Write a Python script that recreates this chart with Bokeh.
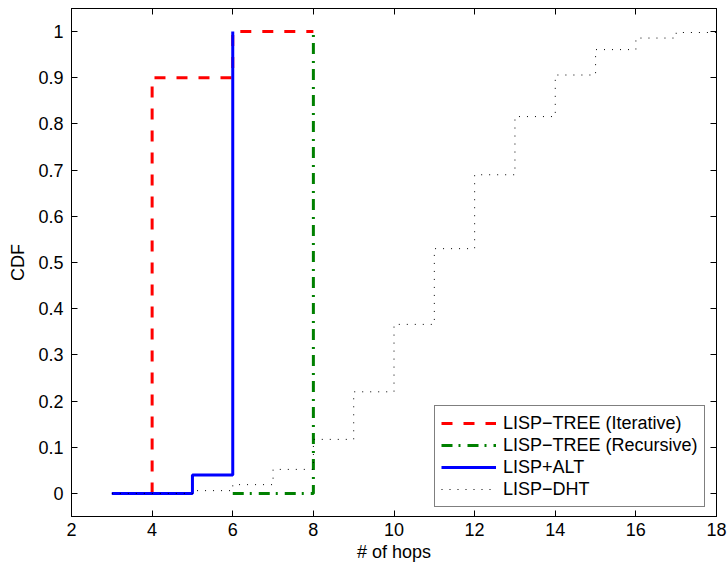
from bokeh.plotting import figure
from bokeh.models import LinearAxis, FixedTicker, Range1d, Legend, CustomLabelingPolicy
from bokeh.embed import file_html
from bokeh.resources import INLINE

# ---- data ----
iter_hops = [4, 4, 6, 8]
iter_cdf = [0, 0.9, 1.0, 1.0]

rec_hops = [6, 8, 8]
rec_cdf = [0, 1.0, 1.0]

alt_hops = [3, 5, 6, 6]
alt_cdf = [0, 0.04, 1.0, 1.0]

dht_hops = [3, 5, 6, 7, 8, 9, 10, 11, 12, 13, 14, 15, 16, 17, 18]
dht_cdf = [0, 0.006, 0.019, 0.052, 0.117, 0.22, 0.366, 0.53, 0.69, 0.816,
           0.906, 0.961, 0.986, 0.998, 1.0]

x_ticks = [2, 4, 6, 8, 10, 12, 14, 16, 18]
y_ticks = [0, 0.1, 0.2, 0.3, 0.4, 0.5, 0.6, 0.7, 0.8, 0.9, 1]
y_tick_labels = ["0", "0.1", "0.2", "0.3", "0.4", "0.5", "0.6", "0.7", "0.8", "0.9", "1"]

series_labels = ["LISP\u2212TREE (Iterative)", "LISP\u2212TREE (Recursive)",
                 "LISP+ALT", "LISP\u2212DHT"]

FONT = "Liberation Sans"
FS = "18px"

p = figure(width=728, height=568, output_backend="svg", toolbar_location=None,
           x_range=Range1d(2, 18), y_range=Range1d(-0.05, 1.05),
           min_border_left=71, min_border_right=12, min_border_top=8,
           min_border_bottom=52)
p.xgrid.visible = False
p.ygrid.visible = False
p.outline_line_color = "black"
p.outline_line_width = 1
p.background_fill_color = "white"
p.border_fill_color = "white"

r1 = p.step(iter_hops, iter_cdf, mode="after", line_color="#ff0000",
            line_width=3, line_dash="11 11")
r2 = p.step(rec_hops, rec_cdf, mode="after", line_color="#008000",
            line_width=3, line_dash="11 6 2 7")
r3 = p.step(alt_hops, alt_cdf, mode="after", line_color="#0000ff",
            line_width=3)
r4 = p.step(dht_hops, dht_cdf, mode="after", line_color="black",
            line_width=1, line_dash="1 7")

overrides = {t: l for t, l in zip(y_ticks, y_tick_labels)}


def style_axis(ax, labels=True):
    ax.major_tick_in = 6
    ax.major_tick_out = 0
    ax.minor_tick_line_color = None
    ax.axis_line_color = "black"
    ax.major_tick_line_color = "black"
    ax.major_label_text_font = FONT
    ax.major_label_text_font_size = FS
    ax.major_label_text_color = "black"
    ax.axis_label_text_font = FONT
    ax.axis_label_text_font_size = FS
    ax.axis_label_text_font_style = "normal"
    ax.axis_label_text_color = "black"
    if not labels:
        ax.major_label_text_font_size = "0px"
        ax.major_label_standoff = 0
        ax.major_label_policy = CustomLabelingPolicy(code="return []")


xa = p.xaxis[0]
xa.ticker = FixedTicker(ticks=x_ticks)
xa.axis_label = "# of hops"
style_axis(xa)
xa.major_label_standoff = 6
xa.axis_label_standoff = 3

ya = p.yaxis[0]
ya.ticker = FixedTicker(ticks=y_ticks)
ya.major_label_overrides = overrides
ya.axis_label = "CDF"
style_axis(ya)
ya.major_label_standoff = 8
ya.axis_label_standoff = 7

top = LinearAxis(ticker=FixedTicker(ticks=x_ticks))
style_axis(top, labels=False)
p.add_layout(top, "above")
right = LinearAxis(ticker=FixedTicker(ticks=y_ticks))
style_axis(right, labels=False)
p.add_layout(right, "right")

legend = Legend(items=[(series_labels[0], [r1]), (series_labels[1], [r2]),
                       (series_labels[2], [r3]), (series_labels[3], [r4])],
                location=(363, 9))
legend.label_text_font = FONT
legend.label_text_font_size = FS
legend.label_text_color = "black"
legend.border_line_color = "black"
legend.border_line_width = 1
legend.background_fill_color = "white"
legend.background_fill_alpha = 1
legend.glyph_width = 55
legend.glyph_height = 22
legend.label_height = 22
legend.label_standoff = 7
legend.spacing = 0
legend.padding = 6
legend.margin = 0
p.add_layout(legend, "center")

open("out.html", "w").write(file_html(p, INLINE))
